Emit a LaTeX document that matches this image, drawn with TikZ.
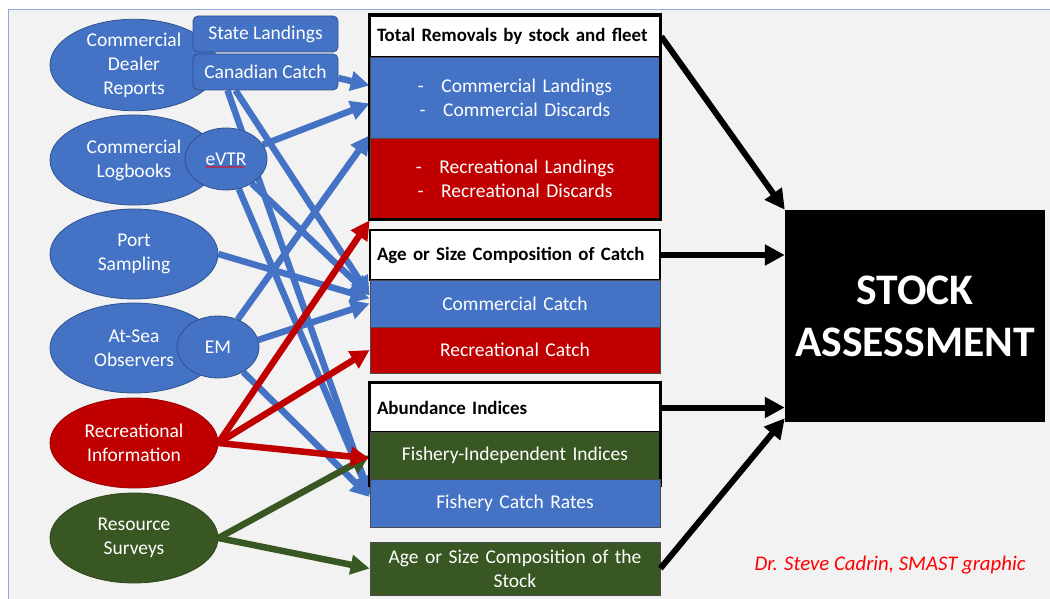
\documentclass[tikz,border=0pt]{standalone}
\usepackage{fontspec}
\setmainfont{Carlito}
\usetikzlibrary{arrows.meta,shapes.geometric,decorations.pathmorphing}
\pgfdeclarelayer{back}
\pgfdeclarelayer{links}
\pgfsetlayers{back,links,main}
\definecolor{offblue}{HTML}{4472C4}
\definecolor{offred}{HTML}{C00000}
\definecolor{offgreen}{HTML}{385723}
\definecolor{edgeblue}{HTML}{2F528F}
\definecolor{panel}{HTML}{F2F2F2}
\definecolor{panelline}{HTML}{8FAADC}

\begin{document}
\begin{tikzpicture}[x=1pt, y=-1pt,
    every node/.style={font=\fontsize{19.5}{24}\selectfont},
    src/.style={ellipse, draw=edgeblue, line width=0.8pt, fill=offblue, text=white,
        minimum width=168pt, minimum height=90pt, inner sep=0pt, align=center},
    sub/.style={ellipse, draw=edgeblue, line width=0.8pt, fill=offblue, text=white,
        minimum width=82pt, minimum height=62pt, inner sep=0pt},
    tag/.style={rectangle, rounded corners=5pt, draw=edgeblue, line width=0.8pt, fill=offblue,
        text=white, minimum width=145pt, minimum height=36pt, inner sep=0pt},
    head/.style={rectangle, draw=black, line width=2.5pt, fill=white, text width=276pt,
        inner xsep=7pt, inner ysep=0pt, align=left, font=\bfseries\fontsize{18.9}{23}\selectfont},
    bar/.style={rectangle, draw=black!70, line width=0.7pt, text=white, text width=274pt,
        inner xsep=8pt, inner ysep=0pt, align=center},
    link/.style={line width=6.5pt, -{Triangle[length=19pt,width=19pt]}},
    feed/.style={draw=black, line width=6pt, -{Triangle[length=20pt,width=20pt]}}
    ]

    \useasboundingbox (0,0) rectangle (1050,599);
    \begin{pgfonlayer}{back}
        \fill [white] (0,0) rectangle (1050,599);
        \draw [fill=panel, draw=panelline, line width=1pt] (8,10) rectangle (1056,605);
    \end{pgfonlayer}

    % data sources
    \node [src] (cdr) at (134,65) {Commercial\\Dealer\\Reports};
    \node [src] (logb) at (134,160) {Commercial\\Logbooks};
    \node [src] (port) at (134,254) {Port\\Sampling};
    \node [src] (obs) at (134,348) {At-Sea\\Observers};
    \node [src] [fill=offred, draw=offred!80!black] (rec) at (134,443) {Recreational\\Information};
    \node [src] [fill=offgreen, draw=offgreen!80!black] (surv) at (134,538) {Resource\\Surveys};
    \node [sub] (evtr) at (226,159) {eVTR};
    \node [sub] (em) at (218,347) {EM};
    \node [tag] (stland) at (265.5,34) {State Landings};
    \node [tag] (cancatch) at (265.5,72) {Canadian Catch};
    \draw [red, line width=0.5pt, decorate, decoration={snake, amplitude=0.7pt, segment length=3pt}]
        ([xshift=-21pt,yshift=-8pt]evtr.center) -- ([xshift=19pt,yshift=-8pt]evtr.center);

    % data types
    \node [head] [minimum height=41pt] (totrem) at (515,36.5) {Total Removals by stock and fleet};
    \node [bar] [fill=offblue, minimum height=81pt] (comrem) at (515,97.5)
        {-\hspace{0.9em}Commercial Landings\\-\hspace{0.9em}Commercial Discards};
    \node [bar] [fill=offred, minimum height=81pt] (recrem) at (515,178.5)
        {-\hspace{0.9em}Recreational Landings\\-\hspace{0.9em}Recreational Discards};
    \draw [black, line width=2.5pt] (totrem.north west) rectangle (recrem.south east);

    \node [head] [minimum height=50pt] (agecatch) at (515,255) {Age or Size Composition of Catch};
    \node [bar] [fill=offblue, minimum height=47pt] (comcatch) at (515,303.5) {Commercial Catch};
    \node [bar] [fill=offred, minimum height=46pt] (reccatch) at (515,350) {Recreational Catch};

    \node [head] [minimum height=49pt] (abund) at (515,407.5) {Abundance Indices};
    \node [bar] [fill=offgreen, minimum height=47pt] (fishind) at (515,455.5) {Fishery-Independent Indices};
    \draw [black, line width=2.5pt] (abund.north west) rectangle ([yshift=-6pt]fishind.south east);
    \node [bar] [fill=offblue, minimum height=48pt] (fishrate) at (515,503) {Fishery Catch Rates};

    \node [bar] [fill=offgreen, minimum height=53pt] (agestock) at (515,568.5) {Age or Size Composition of the\\Stock};

    \node [fill=black, text=white, minimum width=260pt, minimum height=212pt, align=center,
        font=\bfseries\fontsize{43.6}{52}\selectfont] (stock) at (915,316) {STOCK\\ASSESSMENT};

    \node [text=red, font=\itshape\fontsize{20.8}{24}\selectfont] (credit) at (890,565) {Dr. Steve Cadrin, SMAST graphic};

    \begin{pgfonlayer}{links}
        \draw [link, offblue] ([yshift=-6pt]cancatch.east) -- ([yshift=12pt]comrem.west);
        \draw [link, offblue] (evtr) -- ([yshift=-6pt]comrem.west);
        \draw [link, offblue] (em) -- ([yshift=3pt]comrem.south west);
        \draw [link, offblue] ([xshift=-38pt]cancatch.south) -- ([yshift=8pt]fishrate.west);
        \draw [link, offblue] ([xshift=-30pt]cancatch.south) -- ([yshift=8pt]comcatch.west);
        \draw [link, offblue] (evtr) -- ([yshift=8pt]fishrate.west);
        \draw [link, offblue] (evtr) -- ([yshift=8pt]comcatch.west);
        \draw [link, offblue] (port.east) -- ([yshift=5pt]comcatch.west);
        \draw [link, offblue] (em.10) -- (comcatch.west);
        \draw [link, offblue] (em) -- ([yshift=6pt]fishrate.west);
        \draw [link, offgreen] (surv.east) -- (fishind.west);
        \draw [link, offgreen] (surv.east) -- (agestock.west);
        \draw [link, offred] (rec.east) -- ([yshift=-1pt]recrem.south west);
        \draw [link, offred] (rec.east) -- (reccatch.west);
        \draw [link, offred] (rec.east) -- ([yshift=-3pt]fishind.west);
    \end{pgfonlayer}

    \draw [feed] (totrem.east) -- (stock.north west);
    \draw [feed] (agecatch.east) -- (agecatch.east -| stock.west);
    \draw [feed] (abund.east) -- (abund.east -| stock.west);
    \draw [feed] (agestock.east) -- ([yshift=4pt]stock.south west);

\end{tikzpicture}
\end{document}
